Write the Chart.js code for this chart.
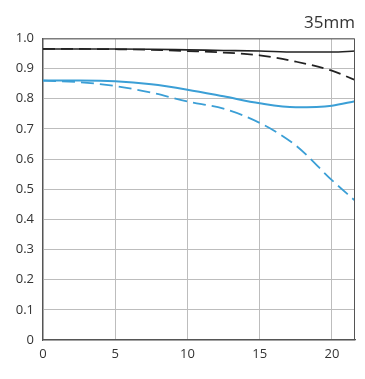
<!DOCTYPE html>
<html>
<head>
<meta charset="utf-8">
<script src="https://cdn.jsdelivr.net/npm/chart.js@4"></script>
<style>
  html, body { margin: 0; padding: 0; background: #fff; }
  #wrap { width: 365px; height: 379px; }
</style>
</head>
<body>
<div id="wrap"><canvas id="mtf"></canvas></div>
<script>
// image height from centre (mm) and MTF values
const distances = [0, 2.5, 5, 7.5, 10, 12.5, 15, 17.5, 20, 21.6];
const blackSolid = [0.965, 0.965, 0.965, 0.964, 0.962, 0.960, 0.958, 0.955, 0.955, 0.958];
const blackDashed = [0.965, 0.965, 0.964, 0.962, 0.958, 0.953, 0.944, 0.923, 0.893, 0.862];
const blueSolid = [0.860, 0.860, 0.858, 0.848, 0.830, 0.808, 0.785, 0.772, 0.777, 0.792];
const blueDashed = [0.860, 0.855, 0.842, 0.820, 0.791, 0.767, 0.720, 0.645, 0.530, 0.462];
const xTicks = [0, 5, 10, 15, 20];
const titleText = '35mm';

function pts(values) {
  return values.map((v, i) => ({ x: distances[i], y: v }));
}

const frame = {
  id: 'frame',
  afterDatasetsDraw(chart) {
    const { ctx, chartArea: a } = chart;
    ctx.save();
    ctx.strokeStyle = '#555';
    ctx.lineWidth = 1;
    ctx.beginPath();
    ctx.moveTo(a.left, a.top + 0.5);
    ctx.lineTo(a.right - 0.5, a.top + 0.5);
    ctx.lineTo(a.right - 0.5, a.bottom);
    ctx.stroke();
    ctx.restore();
  }
};

const line = (values, color, dash, width) => ({
  data: pts(values),
  borderColor: color,
  borderWidth: width,
  borderDash: dash,
  pointRadius: 0,
  fill: false,
  cubicInterpolationMode: 'monotone'
});

new Chart(document.getElementById('mtf'), {
  type: 'line',
  data: {
    datasets: [
      line(blueDashed, '#3b9fd6', [13, 6], 1.8),
      line(blueSolid, '#3b9fd6', [], 2),
      line(blackDashed, '#222', [12, 6], 1.7),
      line(blackSolid, '#222', [], 1.6)
    ]
  },
  options: {
    responsive: true,
    maintainAspectRatio: false,
    animation: false,
    layout: { padding: { top: 10, right: 10, left: 0, bottom: 0 } },
    plugins: {
      legend: { display: false },
      tooltip: { enabled: false },
      title: {
        display: true,
        text: titleText,
        align: 'end',
        color: '#333',
        font: { family: 'Open Sans', size: 17, weight: 'normal', lineHeight: 1.2 },
        padding: { top: 3, bottom: 5 }
      }
    },
    scales: {
      x: {
        type: 'linear',
        min: 0,
        max: 21.6,
        afterBuildTicks(scale) {
          scale.ticks = xTicks.map(v => ({ value: v }));
        },
        afterFit(scale) { scale.height = 39; },
        grid: { color: '#bdbdbd', lineWidth: 1, drawTicks: false },
        border: { color: '#555', width: 1.2 },
        ticks: {
          color: '#333',
          padding: 6,
          font: { family: 'Open Sans', size: 13 }
        }
      },
      y: {
        min: 0,
        max: 1,
        afterFit(scale) { scale.width = 43; },
        grid: { color: '#bdbdbd', lineWidth: 1, drawTicks: false },
        border: { color: '#555', width: 1.2 },
        ticks: {
          stepSize: 0.1,
          color: '#333',
          padding: 9,
          font: { family: 'Open Sans', size: 13 },
          callback: v => (v === 0 ? '0' : v.toFixed(1))
        }
      }
    }
  },
  plugins: [frame]
});
</script>
</body>
</html>
